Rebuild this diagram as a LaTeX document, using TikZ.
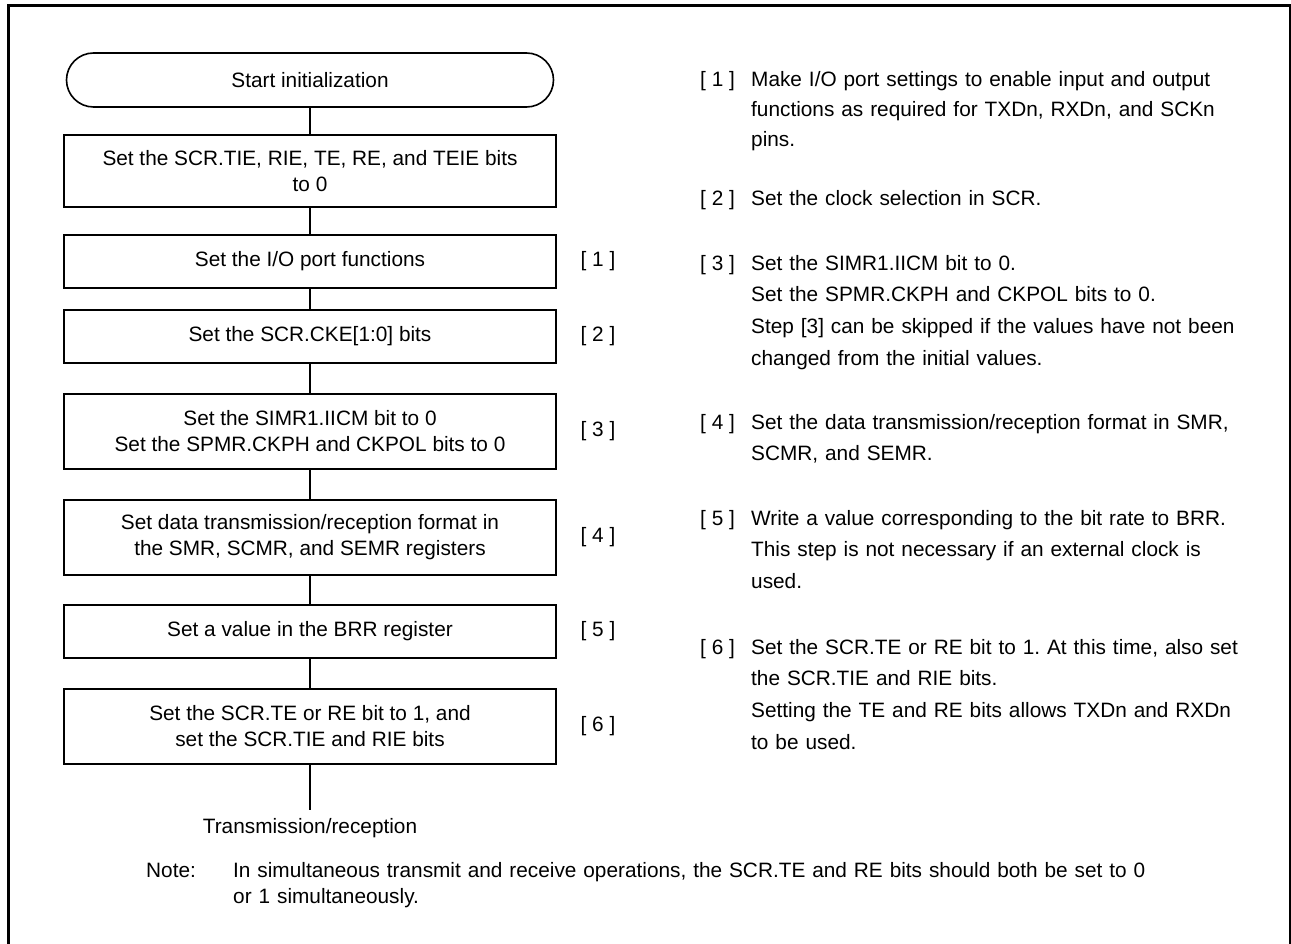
\documentclass[tikz,border=0pt]{standalone}
\usepackage{fontspec}
\setmainfont{Liberation Sans}
\frenchspacing
\begin{document}
\begin{tikzpicture}[x=1pt,y=-1pt,
  every node/.style={font=\fontsize{20.8}{26}\selectfont},
  box/.style={draw,line width=1.6pt,minimum width=492pt,align=center,inner sep=0pt},
  term/.style={draw,line width=1.6pt,rounded corners=27pt,minimum width=487pt,minimum height=54pt,inner sep=0pt},
  conn/.style={line width=1.3pt},
  tag/.style={inner sep=0pt},
  num/.style={anchor=base west,inner sep=0pt},
  desc/.style={anchor=base west,inner sep=0pt,text width=540pt,align=left,font=\fontsize{20.8}{31.7}\selectfont}]
\useasboundingbox (0,0) rectangle (1291,944);
\begin{scope}
\clip (0,0) rectangle (1291,944);
\draw[line width=3pt] (8,6) rectangle (1290,990);
\end{scope}
% flowchart
\node[term] (s) at (310,80) {Start initialization};
\node[box,minimum height=72pt] (a) at (310,171) {Set the SCR.TIE, RIE, TE, RE, and TEIE bits\\to 0};
\node[box,minimum height=53pt] (b) at (310,261.5) {Set the I/O port functions};
\node[box,minimum height=53pt] (c) at (310,336.5) {Set the SCR.CKE[1:0] bits};
\node[box,minimum height=75pt] (d) at (310,431.5) {Set the SIMR1.IICM bit to 0\\Set the SPMR.CKPH and CKPOL bits to 0};
\node[box,minimum height=75pt] (e) at (310,537.5) {Set data transmission/reception format in\\the SMR, SCMR, and SEMR registers};
\node[box,minimum height=53pt] (f) at (310,631.5) {Set a value in the BRR register};
\node[box,minimum height=75pt] (g) at (310,726.5) {Set the SCR.TE or RE bit to 1, and\\set the SCR.TIE and RIE bits};
\coordinate (end) at (310,810);
\draw[conn] (s) -- (a);
\draw[conn] (a) -- (b);
\draw[conn] (b) -- (c);
\draw[conn] (c) -- (d);
\draw[conn] (d) -- (e);
\draw[conn] (e) -- (f);
\draw[conn] (f) -- (g);
\draw[conn] (g.south) -- (end);
\node[inner sep=0pt] (tr) at (310,828) {Transmission/reception};
% step tags
\node[tag] (t1) at (598,261.5) {[ 1 ]};
\node[tag] (t2) at (598,336.5) {[ 2 ]};
\node[tag] (t3) at (598,431.5) {[ 3 ]};
\node[tag] (t4) at (598,537.5) {[ 4 ]};
\node[tag] (t5) at (598,631.5) {[ 5 ]};
\node[tag] (t6) at (598,726.5) {[ 6 ]};
% right column
\node[num] (n1) at (700,87) {[ 1 ]};
\node[desc,font=\fontsize{20.8}{30}\selectfont] (d1) at (751,87) {Make I/O port settings to enable input and output\\functions as required for TXDn, RXDn, and SCKn\\pins.};
\node[num] (n2) at (700,206) {[ 2 ]};
\node[desc] (d2) at (751,206) {Set the clock selection in SCR.};
\node[num] (n3) at (700,270) {[ 3 ]};
\node[desc] (d3) at (751,270) {Set the SIMR1.IICM bit to 0.\\Set the SPMR.CKPH and CKPOL bits to 0.\\Step [3] can be skipped if the values have not been\\changed from the initial values.};
\node[num] (n4) at (700,429) {[ 4 ]};
\node[desc] (d4) at (751,429) {Set the data transmission/reception format in SMR,\\SCMR, and SEMR.};
\node[num] (n5) at (700,525) {[ 5 ]};
\node[desc] (d5) at (751,525) {Write a value corresponding to the bit rate to BRR.\\This step is not necessary if an external clock is\\used.};
\node[num] (n6) at (700,654) {[ 6 ]};
\node[desc] (d6) at (751,654) {Set the SCR.TE or RE bit to 1. At this time, also set\\the SCR.TIE and RIE bits.\\Setting the TE and RE bits allows TXDn and RXDn\\to be used.};
% note
\node[num] (nl) at (146,877) {Note:};
\node[num,text width=1000pt,align=left] (nt) at (233,877) {In simultaneous transmit and receive operations, the SCR.TE and RE bits should both be set to 0\\or 1 simultaneously.};
\end{tikzpicture}
\end{document}
